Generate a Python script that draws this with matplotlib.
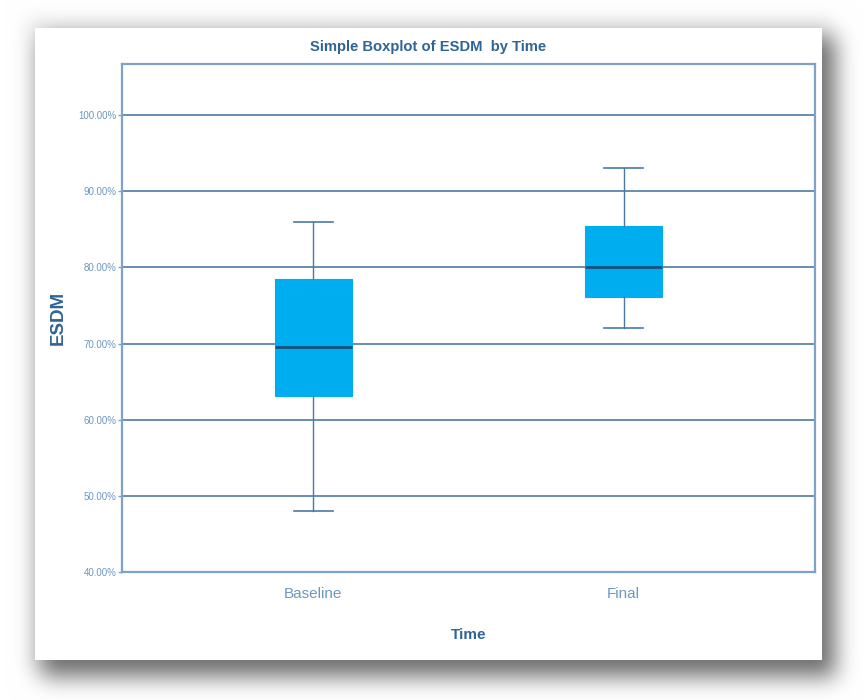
import numpy as np
import matplotlib
matplotlib.use('Agg')
import matplotlib.pyplot as plt

# box statistics (percent)
groups = ['Baseline', 'Final']
whis_lo = [48.0, 72.0]
q1 = [63.1, 76.1]
medians = [69.5, 80.0]
q3 = [78.5, 85.4]
whis_hi = [86.0, 93.0]
yticks = [40, 50, 60, 70, 80, 90, 100]

W, H = 865, 700
fam = ['Liberation Sans Narrow', 'Liberation Sans', 'DejaVu Sans']
txt_dark = '#2f6496'
txt_light = '#6d97c0'
line_c = '#4a79a6'
box_c = '#00aeef'


def blur(img, r, n=3):
    # repeated box blur ~ gaussian
    for _ in range(n):
        for ax in (0, 1):
            c = np.cumsum(np.pad(img, [(r + 1, r) if a == ax else (0, 0) for a in (0, 1)], mode='edge'), axis=ax)
            if ax == 0:
                img = (c[2 * r + 1:, :] - c[:-2 * r - 1, :]) / (2 * r + 1)
            else:
                img = (c[:, 2 * r + 1:] - c[:, :-2 * r - 1]) / (2 * r + 1)
    return img


def rect_mask(x0, y0, x1, y1):
    m = np.zeros((H, W))
    m[y0:y1, x0:x1] = 1.0
    return m


# card with drop shadow in the background
card = (35, 28, 822, 660)
halo = blur(rect_mask(card[0] - 10, card[1] - 12, card[2] + 10, card[3] + 10), 7)
shadow = blur(rect_mask(card[0] + 6, card[1] + 8, card[2] + 14, card[3] + 18), 10)
dark = np.clip(0.06 * halo + 0.5 * shadow, 0, 1)
bg = 1.0 - dark
bg[card[1]:card[3], card[0]:card[2]] = 1.0
rgb = np.dstack([bg, bg, bg])

fig = plt.figure(figsize=(W / 100, H / 100), dpi=100)
ax_bg = fig.add_axes([0, 0, 1, 1])
ax_bg.imshow(rgb, aspect='auto', interpolation='bilinear')
ax_bg.set_axis_off()

ax = fig.add_axes([122 / W, 1 - 572 / H, (815 - 122) / W, (572 - 64) / H])
ax.set_facecolor('none')

stats = []
for i, g in enumerate(groups):
    stats.append(dict(label=g, whislo=whis_lo[i], q1=q1[i], med=medians[i],
                      q3=q3[i], whishi=whis_hi[i], fliers=[]))

ax.bxp(stats, positions=[1, 2], widths=0.248, patch_artist=True,
       showfliers=False, capwidths=0.126,
       boxprops=dict(facecolor=box_c, edgecolor=box_c, linewidth=0.8),
       whiskerprops=dict(color=line_c, linewidth=1.0),
       capprops=dict(color=line_c, linewidth=1.2),
       medianprops=dict(color='#1d4f7a', linewidth=2.0),
       zorder=3)

for y in yticks[1:]:
    ax.axhline(y, color='#3f6f9d', linewidth=1.1, zorder=2)

ax.set_xlim(0.384, 2.616)
ax.set_ylim(40, 106.7)
ax.set_yticks(yticks)
ax.set_yticklabels([f'{v:.2f}%' for v in yticks])
for lbl in ax.get_yticklabels():
    lbl.set_family(fam)
    lbl.set_fontsize(7)
    lbl.set_color(txt_light)
ax.set_xticks([1, 2])
ax.set_xticklabels(groups)
for lbl in ax.get_xticklabels():
    lbl.set_family(fam)
    lbl.set_fontsize(11)
    lbl.set_color(txt_light)
ax.tick_params(axis='y', length=3, width=1, color='#7fa3c8', pad=1)
ax.tick_params(axis='x', length=0, pad=11)

for s in ax.spines.values():
    s.set_color('#7fa3c8')
    s.set_linewidth(1.6)

fig.text(428 / W, 1 - 47 / H, 'Simple Boxplot of ESDM  by Time', family=fam,
         fontsize=10.6, fontweight='bold', color=txt_dark,
         ha='center', va='center')
ax.set_xlabel('Time', family=fam, fontsize=11, fontweight='bold',
              color=txt_dark, labelpad=19)
ax.set_ylabel('ESDM', family=fam, fontsize=13.5, fontweight='bold',
              color=txt_dark, labelpad=8)

fig.savefig('out.png', dpi=100)
